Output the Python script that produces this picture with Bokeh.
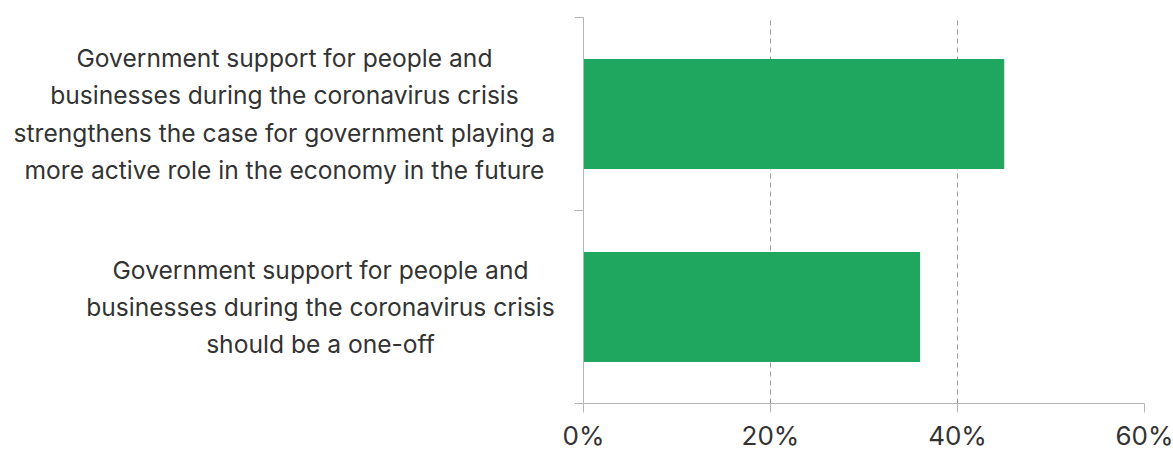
from bokeh.plotting import figure
from bokeh.models import Range1d, FixedTicker, ColumnDataSource
from bokeh.layouts import row
from bokeh.core.properties import value
from bokeh.embed import file_html
from bokeh.resources import INLINE

# ---- data ----
categories = [
    "Government support for people and\nbusinesses during the coronavirus crisis\nstrengthens the case for government playing a\nmore active role in the economy in the future",
    "Government support for people and\nbusinesses during the coronavirus crisis\nshould be a one-off",
]
values = [45, 36]
x_ticks = [0, 20, 40, 60]
x_tick_labels = ["0%", "20%", "40%", "60%"]

# ---- layout ----
W, H = 1173, 453
LEFT_W = 560                   # width of the label panel
B_TOP, B_BOTTOM = 17, 48
R_BORDER_LEFT, R_BORDER_RIGHT = 23, 29
FRAME_W = 561
LABEL_CENTERS_PX = [284, 320]  # horizontal centre of each label block in the label panel

TEXT = "#333333"
AXIS = "#b5b5b5"
GREEN = "#1fa65f"
FONT = "Inter"

n = len(categories)
ys = [n - i - 0.5 for i in range(n)]
y_range = Range1d(0, n)

# ---- bar panel ----
source = ColumnDataSource(dict(y=ys, v=values))
p = figure(width=R_BORDER_LEFT + FRAME_W + R_BORDER_RIGHT, height=H,
           x_range=Range1d(0, x_ticks[-1]), y_range=y_range,
           output_backend="svg", toolbar_location=None,
           min_border_left=R_BORDER_LEFT, min_border_right=R_BORDER_RIGHT,
           min_border_top=B_TOP, min_border_bottom=B_BOTTOM)
p.outline_line_color = None

p.hbar(y="y", left=0, right="v", height=0.57, source=source,
       fill_color=GREEN, line_color=None)

xa = p.xaxis[0]
xa.ticker = FixedTicker(ticks=x_ticks)
xa.major_label_overrides = {t: lab for t, lab in zip(x_ticks, x_tick_labels)}
xa.major_label_text_font = FONT
xa.major_label_text_font_size = "26px"
xa.major_label_text_color = TEXT
xa.major_label_standoff = 7
xa.axis_line_color = AXIS
xa.major_tick_line_color = AXIS
xa.major_tick_out = 9
xa.major_tick_in = 0
xa.minor_tick_line_color = None

ya = p.yaxis[0]
ya.ticker = FixedTicker(ticks=list(range(n + 1)))
ya.major_label_overrides = {t: "" for t in range(n + 1)}
ya.major_label_text_font_size = "1px"
ya.axis_line_color = AXIS
ya.major_tick_line_color = AXIS
ya.major_tick_out = 9
ya.major_tick_in = 0
ya.minor_tick_line_color = None

p.ygrid.grid_line_color = None
p.xgrid.ticker = FixedTicker(ticks=x_ticks[1:])
p.xgrid.grid_line_color = "#9a9a9a"
p.xgrid.grid_line_dash = "5 4"

# ---- category label panel (shares the y scale) ----
q = figure(width=LEFT_W, height=H, x_range=Range1d(0, LEFT_W), y_range=y_range,
           x_axis_type=None, y_axis_type=None,
           output_backend="svg", toolbar_location=None,
           min_border_left=0, min_border_right=0,
           min_border_top=B_TOP, min_border_bottom=B_BOTTOM)
q.outline_line_color = None
q.grid.grid_line_color = None

lsrc = ColumnDataSource(dict(x=LABEL_CENTERS_PX, y=ys, t=categories))
q.text(x="x", y="y", text="t", source=lsrc, text_align="center", text_baseline="middle",
       text_font=value(FONT), text_font_size=value("24.6px"), text_color=TEXT,
       text_line_height=1.235)

layout = row(q, p)
open("out.html", "w").write(file_html(layout, INLINE))
